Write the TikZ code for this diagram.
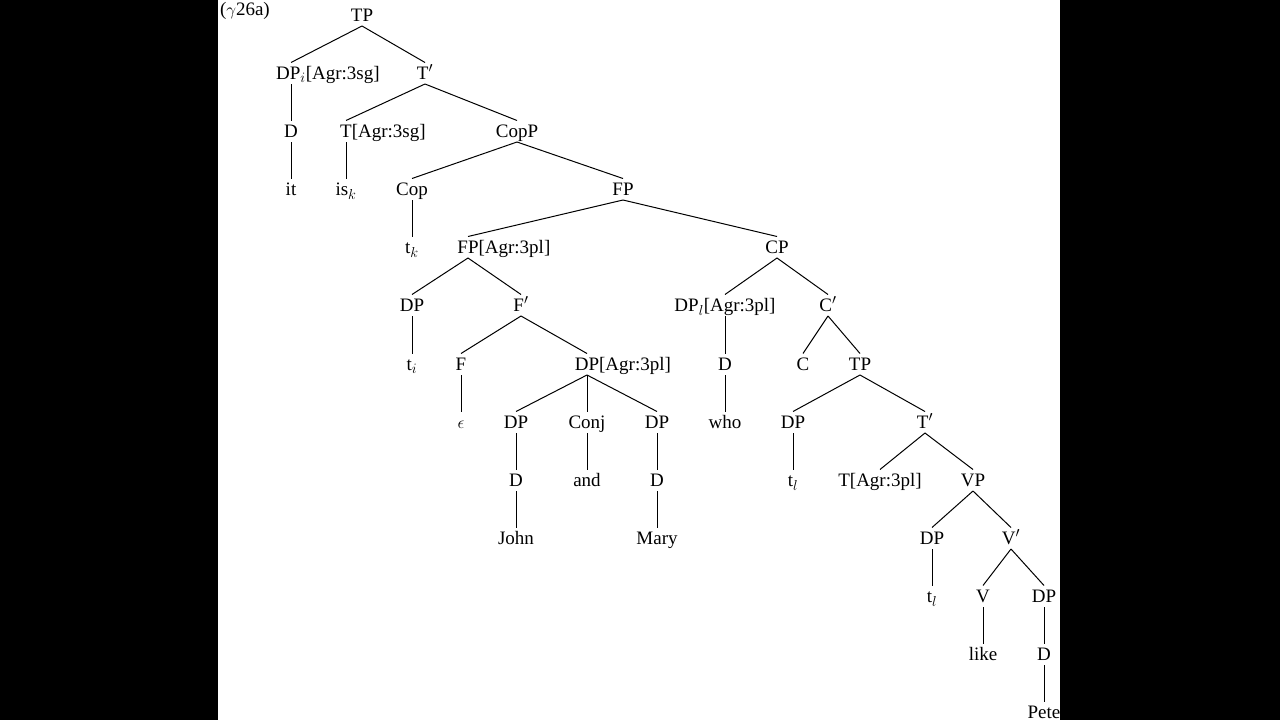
\documentclass[tikz,border=0pt]{standalone}
\usepackage{fontspec}
\setmainfont{Liberation Serif}
\usepackage{tikz}

\tikzset{
  cat/.style={inner sep=0pt, outer sep=0pt, anchor=base, text height=16.5pt, text depth=5pt, font=\fontsize{19}{22}\selectfont},
  feat/.style={inner sep=0pt, outer sep=0pt, anchor=base west, font=\fontsize{19}{22}\selectfont},
  branch/.style={draw, line width=1pt}
}

\begin{document}
\begin{tikzpicture}[x=1pt, y=-1pt]

   \useasboundingbox (0,0) rectangle (1280,720);
   \fill[white] (218,0) rectangle (1060,720);
   % Define the nodes, one row at a time
   \node[feat] (ex_label) at (220,15) {($\gamma$26a)};

   \node[cat] (tp) at (362,21) {TP};

   \node[cat] (dp_i) at (291,79) {DP$_i$};
   \node[feat] (dp_i_f) at (dp_i.base east) {[Agr:3sg]};
   \node[cat] (t_bar) at (425,79) {T$'$};

   \node[cat] (d_1) at (291,137) {D};
   \node[cat] (t_agr) at (346,137) {T};
   \node[feat] (t_agr_f) at (t_agr.base east) {[Agr:3sg]};
   \node[cat] (copp) at (517,137) {CopP};

   \node[cat] (it) at (291,195) {it};
   \node[cat] (is_k) at (346,195) {is$_k$};
   \node[cat] (cop) at (412,195) {Cop};
   \node[cat] (fp) at (623,195) {FP};

   \node[cat] (t_k) at (412,253) {t$_k$};
   \node[cat] (fp_agr) at (468,253) {FP};
   \node[feat] (fp_agr_f) at (fp_agr.base east) {[Agr:3pl]};
   \node[cat] (cp) at (777,253) {CP};

   \node[cat] (dp_2) at (412,311) {DP};
   \node[cat] (f_bar) at (521,311) {F$'$};
   \node[cat] (dp_l) at (725,311) {DP$_l$[Agr:3pl]};
   \node[cat] (c_bar) at (828,311) {C$'$};

   \node[cat] (t_i) at (412,370) {t$_i$};
   \node[cat] (f) at (461,370) {F};
   \node[cat] (dp_agr) at (587,370) {DP};
   \node[feat] (dp_agr_f) at (dp_agr.base east) {[Agr:3pl]};
   \node[cat] (d_2) at (725,370) {D};
   \node[cat] (c) at (803,370) {C};
   \node[cat] (tp_2) at (860,370) {TP};

   \node[cat] (eps) at (461,428) {$\epsilon$};
   \node[cat] (dp_john) at (516,428) {DP};
   \node[cat] (conj) at (587,428) {Conj};
   \node[cat] (dp_mary) at (657,428) {DP};
   \node[cat] (who) at (725,428) {who};
   \node[cat] (dp_3) at (793,428) {DP};
   \node[cat] (t_bar_2) at (925,428) {T$'$};

   \node[cat] (d_john) at (516,486) {D};
   \node[cat] (and) at (587,486) {and};
   \node[cat] (d_mary) at (657,486) {D};
   \node[cat] (t_l) at (793,486) {t$_l$};
   \node[cat] (t_agr_2) at (880,486) {T[Agr:3pl]};
   \node[cat] (vp) at (973,486) {VP};

   \node[cat] (john) at (516,544) {John};
   \node[cat] (mary) at (657,544) {Mary};
   \node[cat] (dp_4) at (932,544) {DP};
   \node[cat] (v_bar) at (1011,544) {V$'$};

   \node[cat] (t_l_2) at (932,602) {t$_l$};
   \node[cat] (v) at (983,602) {V};
   \node[cat] (dp_pete) at (1044,602) {DP};

   \node[cat] (like) at (983,660) {like};
   \node[cat] (d_pete) at (1044,660) {D};

   \node[cat] (pete) at (1044,718) {Pete};

   % Define branches
   \path[branch]
    (tp.south) edge (dp_i.north)
               edge (t_bar.north)
    (dp_i.south) edge (d_1.north)
    (d_1.south) edge (it.north)
    (t_bar.south) edge (t_agr.north)
                  edge (copp.north)
    (t_agr.south) edge (is_k.north)
    (copp.south) edge (cop.north)
                 edge (fp.north)
    (cop.south) edge (t_k.north)
    (fp.south) edge (fp_agr.north)
               edge (cp.north)
    (fp_agr.south) edge (dp_2.north)
                   edge (f_bar.north)
    (dp_2.south) edge (t_i.north)
    (f_bar.south) edge (f.north)
                  edge (dp_agr.north)
    (f.south) edge (eps.north)
    (dp_agr.south) edge (dp_john.north)
                   edge (conj.north)
                   edge (dp_mary.north)
    (dp_john.south) edge (d_john.north)
    (d_john.south) edge (john.north)
    (conj.south) edge (and.north)
    (dp_mary.south) edge (d_mary.north)
    (d_mary.south) edge (mary.north)
    (cp.south) edge (dp_l.north)
               edge (c_bar.north)
    (dp_l.south) edge (d_2.north)
    (d_2.south) edge (who.north)
    (c_bar.south) edge (c.north)
                  edge (tp_2.north)
    (tp_2.south) edge (dp_3.north)
                 edge (t_bar_2.north)
    (dp_3.south) edge (t_l.north)
    (t_bar_2.south) edge (t_agr_2.north)
                    edge (vp.north)
    (vp.south) edge (dp_4.north)
               edge (v_bar.north)
    (dp_4.south) edge (t_l_2.north)
    (v_bar.south) edge (v.north)
                  edge (dp_pete.north)
    (v.south) edge (like.north)
    (dp_pete.south) edge (d_pete.north)
    (d_pete.south) edge (pete.north);

   % side bars
   \fill[black] (0,0) rectangle (218,720);
   \fill[black] (1060,0) rectangle (1280,720);

\end{tikzpicture}
\end{document}
